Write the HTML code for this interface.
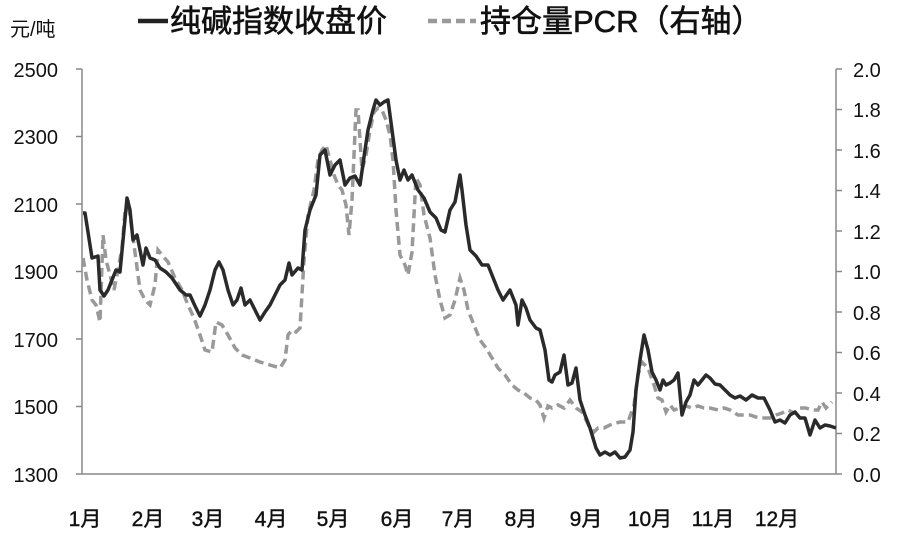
<!DOCTYPE html>
<html><head><meta charset="utf-8"><style>
html,body{margin:0;padding:0;background:#fff;}
svg text{font-family:"Liberation Sans","Noto Sans CJK SC",sans-serif;fill:#111;}
</style></head><body>
<svg width="900" height="537" viewBox="0 0 900 537" xmlns="http://www.w3.org/2000/svg">
<text x="10" y="36" font-size="20">元/吨</text>
<line x1="138" y1="21" x2="168" y2="21" stroke="#222" stroke-width="4.5"/>
<text x="170" y="32" font-size="31" stroke="#111" stroke-width="0.6">纯碱指数收盘价</text>
<line x1="428" y1="21" x2="476" y2="21" stroke="#999" stroke-width="4.5" stroke-dasharray="9,5"/>
<text x="480" y="32" font-size="31" stroke="#111" stroke-width="0.6">持仓量PCR（右轴）</text>
<g stroke="#888" stroke-width="1.5" fill="none">
<line x1="82" y1="69" x2="82" y2="474"/>
<line x1="836" y1="69" x2="836" y2="474"/>
<line x1="76" y1="474" x2="836" y2="474"/>
<line x1="76" y1="69" x2="82" y2="69"/><line x1="76" y1="136.5" x2="82" y2="136.5"/><line x1="76" y1="204" x2="82" y2="204"/><line x1="76" y1="271.5" x2="82" y2="271.5"/><line x1="76" y1="339" x2="82" y2="339"/><line x1="76" y1="406.5" x2="82" y2="406.5"/>
<line x1="836" y1="69" x2="842" y2="69"/><line x1="836" y1="109.5" x2="842" y2="109.5"/><line x1="836" y1="150" x2="842" y2="150"/><line x1="836" y1="190.5" x2="842" y2="190.5"/><line x1="836" y1="231" x2="842" y2="231"/><line x1="836" y1="271.5" x2="842" y2="271.5"/><line x1="836" y1="312" x2="842" y2="312"/><line x1="836" y1="352.5" x2="842" y2="352.5"/><line x1="836" y1="393" x2="842" y2="393"/><line x1="836" y1="433.5" x2="842" y2="433.5"/><line x1="836" y1="474" x2="842" y2="474"/>
</g>
<g font-size="20" text-anchor="end">
<text x="58" y="77">2500</text><text x="58" y="144">2300</text><text x="58" y="212">2100</text><text x="58" y="279">1900</text><text x="58" y="347">1700</text><text x="58" y="414">1500</text><text x="58" y="482">1300</text>
</g>
<g font-size="20">
<text x="853" y="77">2.0</text><text x="853" y="117">1.8</text><text x="853" y="158">1.6</text><text x="853" y="198">1.4</text><text x="853" y="239">1.2</text><text x="853" y="279">1.0</text><text x="853" y="320">0.8</text><text x="853" y="360">0.6</text><text x="853" y="401">0.4</text><text x="853" y="441">0.2</text><text x="853" y="482">0.0</text>
</g>
<g font-size="21" text-anchor="middle" stroke="#111" stroke-width="0.4">
<text x="85" y="526">1月</text><text x="148" y="526">2月</text><text x="208" y="526">3月</text><text x="271" y="526">4月</text><text x="333" y="526">5月</text><text x="397" y="526">6月</text><text x="458" y="526">7月</text><text x="521" y="526">8月</text><text x="586" y="526">9月</text><text x="650" y="526">10月</text><text x="713" y="526">11月</text><text x="777" y="526">12月</text>
</g>
<polyline fill="none" stroke="#999" stroke-width="3.5" stroke-dasharray="9,5" points="83,258 87,280 92,300 96,305 100,322 103,235 106,260 110,275 114,290 118,270 122,248 125,212 128,200 132,230 136,260 140,290 145,300 150,305 155,285 158,250 162,255 168,262 175,278 182,290 188,305 194,318 200,335 205,350 212,352 216,322 222,325 228,335 235,348 242,355 250,358 260,362 270,365 280,368 285,360 288,335 292,330 296,332 300,328 304,260 308,215 314,190 318,160 322,150 326,145 330,160 334,175 338,185 342,190 346,205 349,235 352,200 356,110 358,110 362,170 366,155 370,130 374,112 378,108 382,110 386,120 390,135 393,160 396,210 400,255 405,265 408,275 412,252 416,178 420,185 424,215 430,238 435,275 440,300 445,318 450,315 455,300 460,278 464,290 468,310 472,320 476,330 480,340 486,348 492,358 498,368 505,375 512,385 518,390 524,393 530,398 536,400 540,405 544,418 548,406 552,408 558,405 564,408 570,400 576,408 582,412 586,420 590,428 594,432 598,428 604,428 612,424 620,422 628,422 634,405 638,375 642,362 648,368 654,385 658,398 662,400 666,412 670,405 674,410 680,408 686,406 692,408 698,406 704,408 710,408 718,410 724,408 730,410 738,415 744,415 750,415 756,417 762,418 770,418 776,415 782,413 788,410 794,413 800,408 806,408 812,410 818,410 822,402 826,408 832,402"/>
<polyline fill="none" stroke="#2a2a2a" stroke-width="3.5" stroke-linejoin="round" points="83,213 85,213 88,232 92,258 98,256 100,290 104,296 108,290 112,280 116,270 120,272 124,230 127,198 130,210 133,240 137,235 140,250 143,265 146,248 150,258 155,260 160,268 166,272 172,278 180,290 186,295 190,295 195,306 200,316 205,305 210,290 215,270 219,262 223,270 228,290 233,305 237,300 241,288 245,305 250,300 255,310 260,320 265,312 270,305 275,295 280,285 285,280 289,263 292,275 298,268 302,270 305,230 310,210 316,195 320,155 325,150 330,175 335,165 340,160 345,185 350,178 355,176 360,185 365,150 368,130 373,110 376,100 380,105 384,102 388,100 392,130 396,160 400,180 404,170 408,180 412,175 418,190 424,198 430,212 436,218 441,230 445,232 450,210 455,202 460,175 462,190 466,225 470,250 476,256 482,265 488,265 492,275 498,290 503,300 510,290 516,305 518,325 522,300 526,308 530,320 536,328 540,330 545,350 549,380 552,382 555,375 560,372 564,355 568,385 572,383 576,368 580,400 585,415 590,428 596,448 600,455 605,452 610,455 615,452 620,458 625,457 630,450 633,432 636,390 640,360 644,335 648,350 652,372 656,380 660,390 663,380 666,385 670,383 674,380 678,373 682,415 686,402 690,395 694,380 698,385 702,380 706,375 710,378 715,384 720,385 725,390 730,395 735,398 740,396 746,400 752,395 758,398 764,398 770,410 775,422 780,420 785,423 790,415 795,412 800,418 805,418 810,435 815,420 820,428 825,425 830,426 836,428"/>
</svg>
</body></html>
